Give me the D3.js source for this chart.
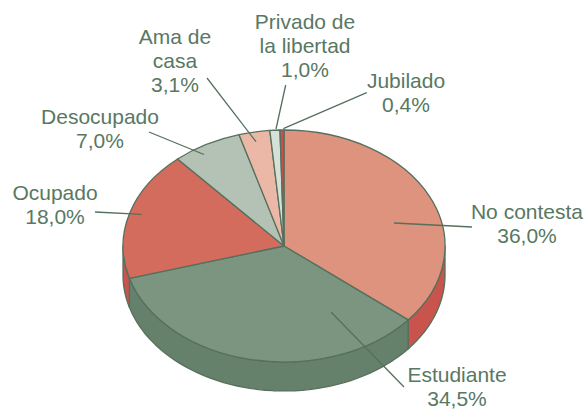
<!DOCTYPE html>
<html><head><meta charset="utf-8">
<script src="https://cdn.jsdelivr.net/npm/d3@7"></script>
<style>html,body{margin:0;background:#fff}svg{display:block}text{font-family:"Liberation Sans",Arial,sans-serif}</style>
</head><body><svg id="c" width="587" height="410"></svg>
<script>
const categories = ["No contesta","Estudiante","Ocupado","Desocupado","Ama de casa","Privado de la libertad","Jubilado"];
const values = [36.0,34.5,18.0,7.0,3.1,1.0,0.4];
const valueLabels = ["36,0%","34,5%","18,0%","7,0%","3,1%","1,0%","0,4%"];
const labelLines = [["No contesta"],["Estudiante"],["Ocupado"],["Desocupado"],["Ama de","casa"],["Privado de","la libertad"],["Jubilado"]];
const topColors = ["#dd937e","#7b9580","#d36c5c","#b3c2b4","#ebb8a7","#d5e0d8","#c9504a"];
const sideColors = ["#c9534d","#66816b","#c9534d","#8f9f92","#c9a090","#b0bbb3","#a94440"];

// layout
const cx=284, cy=246, rx=161, ry=116, depth=29;
const labelX=[527,457,55,100,175,305,406];
const labelTop=[219,381.5,200,124,44,29,88];
const leaderFrom=[[472,227],[404,387],[95,212],[149,132],[207,78],[285.7,85],[366.7,92.7]];
const leaderTo=[[394,223],[331,312],[141.7,214.3],[204,154.5],[256,141.7],[276,129],[283.3,128.7]];
const ink="#55705c", textColor="#587863", lh=24;

const svg=d3.select("#c");
const arcs=d3.pie().sort(null).value(d=>d)(values);
const unit=d3.arc().innerRadius(0).outerRadius(1);
const sx=d3.scaleLinear().domain([-1,1]).range([cx-rx,cx+rx]);
const sy=d3.scaleLinear().domain([-1,1]).range([cy-ry,cy+ry]);

function wall(a0,a1){
  const n=48, pts=[];
  for(let i=0;i<=n;i++){const a=a0+(a1-a0)*i/n;pts.push([sx(Math.sin(a)),sy(-Math.cos(a))]);}
  const back=pts.map(p=>[p[0],p[1]+depth]).reverse();
  return d3.line()(pts.concat(back))+"Z";
}
const walls=arcs.map((d,i)=>({a0:Math.max(d.startAngle,Math.PI/2),a1:Math.min(d.endAngle,Math.PI*1.5),i}))
  .filter(w=>w.a1>w.a0);
svg.append("g").selectAll("path").data(walls).join("path")
  .attr("d",w=>wall(w.a0,w.a1))
  .attr("fill",w=>sideColors[w.i])
  .attr("stroke",ink).attr("stroke-width",1.3).attr("stroke-linejoin","round");

svg.append("g").attr("transform",`translate(${cx},${cy}) scale(${rx},${ry})`)
  .selectAll("path").data(arcs).join("path")
  .attr("d",unit)
  .attr("fill",(d,i)=>topColors[i])
  .attr("stroke",ink).attr("stroke-width",1.3)
  .attr("stroke-linejoin","round")
  .attr("vector-effect","non-scaling-stroke");

svg.append("g").selectAll("line").data(categories).join("line")
  .attr("x1",(d,i)=>leaderFrom[i][0]).attr("y1",(d,i)=>leaderFrom[i][1])
  .attr("x2",(d,i)=>leaderTo[i][0]).attr("y2",(d,i)=>leaderTo[i][1])
  .attr("stroke",ink).attr("stroke-width",1.3);

const lab=svg.append("g").selectAll("text").data(categories).join("text")
  .attr("text-anchor","middle").attr("font-size",21).attr("fill",textColor);
lab.each(function(d,i){
  const lines=labelLines[i].concat(valueLabels[i]);
  d3.select(this).selectAll("tspan").data(lines).join("tspan")
    .attr("x",labelX[i]).attr("y",(l,j)=>labelTop[i]+j*lh).text(l=>l);
});
</script></body></html>
